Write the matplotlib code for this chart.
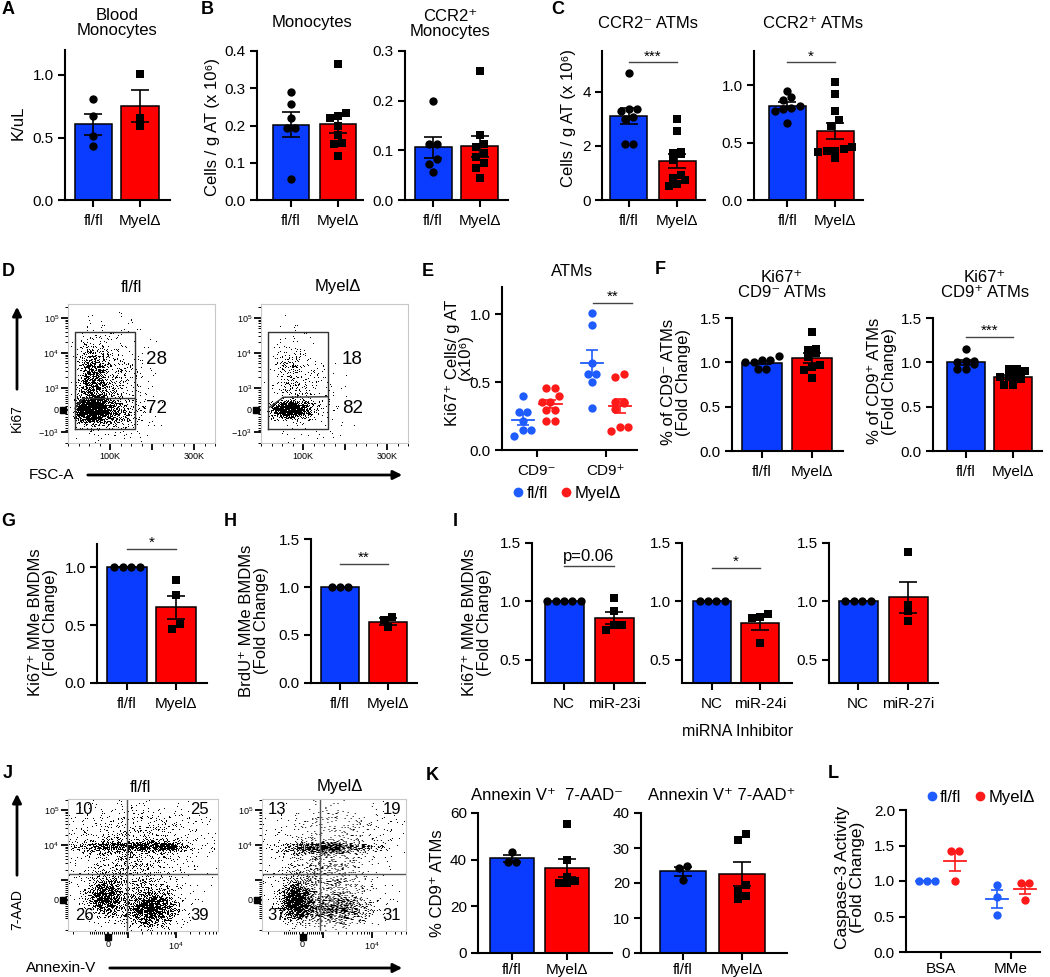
import numpy as np
import matplotlib
matplotlib.use('Agg')
import matplotlib.pyplot as plt
from matplotlib import ticker
from matplotlib.lines import Line2D
from matplotlib.patches import FancyArrowPatch

plt.rcParams['font.family'] = ['Liberation Sans', 'DejaVu Sans']
plt.rcParams['mathtext.fontset'] = 'custom'
plt.rcParams['mathtext.rm'] = 'Liberation Sans'
plt.rcParams['mathtext.it'] = 'Liberation Sans:italic'
plt.rcParams['mathtext.bf'] = 'Liberation Sans:bold'
plt.rcParams['mathtext.default'] = 'regular'

BLUE = '#0a3cff'
RED = '#ff0000'
DOT_BLUE = '#1f5cff'
DOT_RED = '#ff1a1a'

genotypes = ['fl/fl', 'MyelΔ']

# ---- data ----
# A: blood monocytes (K/uL)
a_fl = [0.81, 0.67, 0.51, 0.43]
a_myel = [1.01, 0.66, 0.59]
# B: monocytes in AT (cells / g AT x10^6)
b_mono_fl = [0.29, 0.259, 0.219, 0.194, 0.194, 0.056]
b_mono_myel = [0.366, 0.234, 0.225, 0.219, 0.2, 0.174, 0.154, 0.15, 0.119]
b_ccr2_fl = [0.2, 0.113, 0.113, 0.082, 0.072, 0.057]
b_ccr2_myel = [0.26, 0.131, 0.113, 0.107, 0.094, 0.087, 0.075, 0.064, 0.044]
# C: ATMs
c_neg_fl = [4.7, 3.35, 3.35, 3.3, 3.05, 3.0, 2.07, 2.07]
c_neg_myel = [3.0, 2.55, 1.79, 1.75, 1.7, 1.48, 0.92, 0.8, 0.74, 0.59, 0.52]
c_pos_fl = [0.95, 0.9, 0.87, 0.82, 0.8, 0.79, 0.78, 0.67]
c_pos_myel = [1.026, 0.927, 0.773, 0.70, 0.647, 0.466, 0.443, 0.431, 0.431, 0.42, 0.364]
# D: Ki67 flow, % of gate (upper, lower)
d_fl_pct = [28, 72]
d_myel_pct = [18, 82]
# E: Ki67+ cells / g AT (x10^6)
e_groups = ['CD9⁻', 'CD9⁺']
e_fl = [[0.40, 0.28, 0.28, 0.21, 0.147, 0.147, 0.10],
        [1.005, 0.92, 0.64, 0.56, 0.56, 0.5, 0.31]]
e_myel = [[0.46, 0.453, 0.40, 0.355, 0.355, 0.294, 0.294, 0.21, 0.21],
          [0.56, 0.54, 0.355, 0.355, 0.345, 0.30, 0.17, 0.17, 0.14]]
# F: Ki67+ fold change
f_neg_fl = [1.07, 1.03, 1.03, 1.0, 1.0, 0.93, 0.92]
f_neg_myel = [1.34, 1.15, 1.14, 1.1, 1.06, 0.97, 0.95, 0.91, 0.82]
f_pos_fl = [1.15, 1.02, 1.02, 1.0, 0.98, 0.93, 0.92]
f_pos_myel = [0.92, 0.92, 0.9, 0.83, 0.83, 0.83, 0.81, 0.75, 0.75]
# G, H: MMe BMDMs
g_fl = [1.0, 1.0, 1.0, 1.0]
g_myel = [0.885, 0.756, 0.51, 0.468]
h_fl = [1.0, 1.0, 1.0]
h_myel = [0.688, 0.653, 0.58]
# I: miRNA inhibitors
i_labels = [['NC', 'miR-23i'], ['NC', 'miR-24i'], ['NC', 'miR-27i']]
i_nc = [[1.0, 1.0, 1.0, 1.0, 1.0], [1.0, 1.0, 1.0, 1.0], [1.0, 1.0, 1.0, 1.0]]
i_inh = [[1.03, 0.914, 0.8, 0.794, 0.757],
         [0.891, 0.866, 0.857, 0.643],
         [1.42, 0.971, 0.914, 0.829]]
# J: annexin V / 7-AAD quadrants (UL, UR, LL, LR)
j_fl_pct = [10, 25, 26, 39]
j_myel_pct = [13, 19, 37, 31]
# K: % CD9+ ATMs
k_neg_fl = [43.2, 39.2, 39.2]
k_neg_myel = [55.1, 39.9, 32.7, 30.9, 30.1, 29.9]
k_pos_fl = [25.0, 24.2, 20.9]
k_pos_myel = [34.1, 32.3, 19.3, 17.7, 16.3, 15.4]
# L: caspase-3 activity
l_groups = ['BSA', 'MMe']
l_fl = [[1.0, 1.0, 1.0], [0.941, 0.776, 0.518]]
l_myel = [[1.426, 1.426, 1.0], [0.974, 0.974, 0.73]]

W, H = 1050, 977
fig = plt.figure(figsize=(W / 100, H / 100), dpi=100)


def rect(l, t, r, b):
    return [l / W, 1 - b / H, (r - l) / W, (b - t) / H]


def ftext(x, y, s, **kw):
    kw.setdefault('ha', 'center')
    kw.setdefault('va', 'center')
    fig.text(x / W, 1 - y / H, s, **kw)


def farrow(x0, y0, x1, y1):
    fig.add_artist(FancyArrowPatch((x0 / W, 1 - y0 / H), (x1 / W, 1 - y1 / H),
                                   transform=fig.transFigure, arrowstyle='-|>',
                                   mutation_scale=13, lw=2, color='k'))


def swarm(vals, ypx, xpx, d=8.0):
    # points that sit at about the same height are put side by side
    vals = np.asarray(vals, float)
    order = np.argsort(vals)
    offs = np.zeros(len(vals))
    rows, row = [], []
    for idx in order:
        if row and (vals[idx] - vals[row[0]]) * ypx > 0.8 * d:
            rows.append(row)
            row = []
        row.append(idx)
    rows.append(row)
    for r in rows:
        for k, idx in enumerate(r):
            offs[idx] = (k - (len(r) - 1) / 2) * d * 1.05 / xpx
    return offs


def style_axes(ax, yticks, fmt, xlabels, xpad=5):
    for sp in ['top', 'right']:
        ax.spines[sp].set_visible(False)
    for sp in ['left', 'bottom']:
        ax.spines[sp].set_linewidth(1.5)
    ax.set_yticks(yticks)
    ax.yaxis.set_major_formatter(ticker.FormatStrFormatter(fmt))
    ax.set_xticks(range(len(xlabels)))
    ax.set_xticklabels(xlabels)
    ax.tick_params(length=5, width=1.5, labelsize=11, pad=3)
    ax.tick_params(axis='x', pad=xpad)


def bar_panel(box, xlim, ylim, yticks, fmt, groups, xlabels, width=0.8, xpad=5):
    ax = fig.add_axes(rect(*box))
    ax.set_xlim(*xlim)
    ax.set_ylim(*ylim)
    xpx = (box[2] - box[0]) / (xlim[1] - xlim[0])
    ypx = (box[3] - box[1]) / (ylim[1] - ylim[0])
    for i, (vals, mk, col) in enumerate(zip(groups, ['o', 's'], [BLUE, RED])):
        vals = np.asarray(vals, float)
        m = vals.mean()
        s = vals.std(ddof=1) / np.sqrt(len(vals))
        ax.bar(i, m, width, color=col, edgecolor='k', linewidth=1.1, zorder=2)
        ax.scatter(i + swarm(vals, ypx, xpx), vals, marker=mk, s=36 if mk == 'o' else 30,
                   color='k', linewidths=0, zorder=3, clip_on=False)
        ax.errorbar(i, m, yerr=s, fmt='none', ecolor='k', elinewidth=1.2,
                    capsize=6.5, capthick=1.2, zorder=4)
    style_axes(ax, yticks, fmt, xlabels, xpad)
    return ax


def dot_panel(box, xlim, ylim, yticks, fmt, data_fl, data_myel, xlabels, off=0.2, xpad=5):
    ax = fig.add_axes(rect(*box))
    ax.set_xlim(*xlim)
    ax.set_ylim(*ylim)
    xpx = (box[2] - box[0]) / (xlim[1] - xlim[0])
    ypx = (box[3] - box[1]) / (ylim[1] - ylim[0])
    for i, (vf, vm) in enumerate(zip(data_fl, data_myel)):
        for vals, dx, col in ((vf, -off, DOT_BLUE), (vm, off, DOT_RED)):
            vals = np.asarray(vals, float)
            m = vals.mean()
            s = vals.std(ddof=1) / np.sqrt(len(vals))
            ax.scatter(i + dx + swarm(vals, ypx, xpx), vals, marker='o', s=36,
                       color=col, linewidths=0, zorder=3)
            ax.plot([i + dx - 0.16, i + dx + 0.16], [m, m], color=col, lw=1.3, zorder=4)
            ax.errorbar(i + dx, m, yerr=s, fmt='none', ecolor=col, elinewidth=1.2,
                        capsize=4.2, capthick=1.2, zorder=4)
    style_axes(ax, yticks, fmt, xlabels, xpad)
    return ax


def sig(ax, x0, x1, y, label, size=11, va='baseline'):
    ax.plot([x0, x1], [y, y], color='#444444', lw=1, zorder=5)
    ax.annotate(label, ((x0 + x1) / 2, y), xytext=(0, 1.5), textcoords='offset points',
                ha='center', va=va, fontsize=size)


def dot_legend(ax, xy):
    handles = [Line2D([], [], marker='o', ls='none', color=DOT_BLUE, ms=6),
               Line2D([], [], marker='o', ls='none', color=DOT_RED, ms=6)]
    ax.legend(handles, genotypes, loc='center', bbox_to_anchor=xy, ncol=2, frameon=False,
              fontsize=12, handletextpad=0.0, columnspacing=0.6, handlelength=1.0,
              borderaxespad=0)


def flow_panel(box, clusters, xscale, yscale, gate_x=None):
    # event cloud: density of the populations, drawn as single-pixel dots
    # through a fixed hash dither so it reads like a dot plot
    nx, ny = int(box[2] - box[0]), int(box[3] - box[1])
    xx, yy = np.meshgrid((np.arange(nx) + 0.5) / nx, (np.arange(ny) + 0.5) / ny)
    dens = np.zeros_like(xx)
    for cx, cy, sx, sy, w in clusters:
        dens += w * np.exp(-0.5 * (((xx - cx) / sx) ** 2 + ((yy - cy) / sy) ** 2))
    if gate_x is not None:
        dens *= 0.08 + 0.92 / (1 + np.exp(-(xx - gate_x) / 0.006))
    prob = 0.98 * (1 - np.exp(-2.4 * dens))
    px, py = np.meshgrid(np.arange(nx, dtype=float), np.arange(ny, dtype=float))
    thr = np.mod(np.sin(px * 12.9898 + py * 78.233) * 43758.5453, 1.0)
    img = np.where(prob > thr, 1.0, 0.0)
    axi = fig.add_axes(rect(*box))
    axi.imshow(img, extent=(0, 1, 0, 1), origin='lower', cmap='Greys', vmin=0, vmax=1,
               aspect='auto', interpolation='antialiased')
    axi.set_axis_off()

    ax = fig.add_axes(rect(*box))
    ax.patch.set_alpha(0)
    if xscale is not None:
        ax.set_xscale('symlog', linthresh=1e3, linscale=xscale)
        ax.xaxis.set_minor_locator(ticker.SymmetricalLogLocator(linthresh=1e3, base=10,
                                                                subs=np.arange(2, 10)))
    if yscale is not None:
        ax.set_yscale('symlog', linthresh=1e3, linscale=yscale)
        ax.yaxis.set_minor_locator(ticker.SymmetricalLogLocator(linthresh=1e3, base=10,
                                                                subs=np.arange(2, 10)))
    for sp in ax.spines.values():
        sp.set_color('#c8c8c8')
        sp.set_linewidth(0.8)
    ax.tick_params(which='both', direction='out', color='k', labelsize=6.5, pad=1.5)
    ax.tick_params(which='major', length=5, width=1.3)
    ax.tick_params(which='minor', length=2.5, width=0.7)
    return ax


# ---------------- A ----------------
ax = bar_panel((65, 50, 170, 200), (-0.6, 1.64), (0, 1.2), [0, 0.5, 1.0], '%.1f',
               [a_fl, a_myel], genotypes, width=0.79)
ftext(117, 23, 'Blood\nMonocytes', fontsize=12, linespacing=1.0)
ftext(18, 123, 'K/uL', fontsize=12, rotation=90)

# ---------------- B ----------------
bar_panel((257, 51, 363, 200), (-0.72, 1.53), (0, 0.4), [0, 0.1, 0.2, 0.3, 0.4], '%.1f',
          [b_mono_fl, b_mono_myel], genotypes, width=0.77)
bar_panel((405, 51, 508, 200), (-0.6, 1.6), (0, 0.3), [0, 0.1, 0.2, 0.3], '%.1f',
          [b_ccr2_fl, b_ccr2_myel], genotypes, width=0.79)
ftext(312, 23, 'Monocytes', fontsize=12)
ftext(450, 24, 'CCR2⁺\nMonocytes', fontsize=12, linespacing=1.0)
ftext(213, 127, 'Cells / g AT (x 10⁶)', fontsize=12, rotation=90)

# ---------------- C ----------------
ax = bar_panel((602, 51, 705, 200), (-0.56, 1.58), (0, 5.5), [0, 2, 4], '%d',
               [c_neg_fl, c_neg_myel], genotypes, width=0.77)
sig(ax, 0, 1, 5.08, '***')
ax = bar_panel((754, 51, 863, 200), (-0.69, 1.58), (0, 1.3), [0, 0.5, 1.0], '%.1f',
               [c_pos_fl, c_pos_myel], genotypes, width=0.77)
sig(ax, 0, 1, 1.2, '*')
ftext(648, 23, 'CCR2⁻ ATMs', fontsize=12)
ftext(813, 23, 'CCR2⁺ ATMs', fontsize=12)
ftext(568, 118, 'Cells / g AT (x 10⁶)', fontsize=12, rotation=90)

# ---------------- D ----------------
d_clusters = [
    [(0.16, 0.24, 0.06, 0.045, 2.6), (0.17, 0.46, 0.06, 0.14, 0.45),
     (0.30, 0.40, 0.12, 0.20, 0.08), (0.30, 0.22, 0.10, 0.06, 0.25)],
    [(0.20, 0.24, 0.065, 0.03, 2.2), (0.20, 0.50, 0.06, 0.15, 0.10),
     (0.32, 0.30, 0.12, 0.15, 0.04)],
]
d_boxes = [(68, 304, 215, 443), (261, 304, 408, 443)]
d_gate_line = [([0.048, 0.10, 0.456], [0.25, 0.32, 0.32]),
               ([0.057, 0.152, 0.456], [0.257, 0.329, 0.333])]
d_text_x = [0.605, 0.62]
for box, cl, pct, gl, tx in zip(d_boxes, d_clusters, [d_fl_pct, d_myel_pct],
                                d_gate_line, d_text_x):
    ax = flow_panel(box, cl, None, 0.567, gate_x=0.05)
    ax.set_xlim(0, 350e3)
    ax.set_ylim(-2055, 2.5e5)
    ax.set_xticks([1e5, 2e5, 3e5], ['100K', '', '300K'])
    ax.xaxis.set_minor_locator(ticker.MultipleLocator(25e3))
    ax.set_yticks([-1e3, 0, 1e3, 1e4, 1e5],
                  ['$-10^3$', '0', '$10^3$', '$10^4$', '$10^5$'])
    ax.plot([0.048, 0.456, 0.456, 0.048, 0.048], [0.10, 0.10, 0.80, 0.80, 0.10],
            color='#333333', lw=1, transform=ax.transAxes)
    ax.plot(gl[0], gl[1], color='#333333', lw=1, transform=ax.transAxes)
    ax.plot(-0.035, 0, 's', color='k', ms=5, transform=ax.get_yaxis_transform(),
            clip_on=False)
    ax.text(tx, 0.604, str(pct[0]), transform=ax.transAxes, ha='center', va='center',
            fontsize=13.5)
    ax.text(tx, 0.25, str(pct[1]), transform=ax.transAxes, ha='center', va='center',
            fontsize=13.5)
ftext(131, 287, 'fl/fl', fontsize=12)
ftext(338, 287, 'MyelΔ', fontsize=12)
farrow(17, 392, 17, 304)
ftext(17, 418, 'Ki67', fontsize=10, rotation=90)
ftext(52, 475, 'FSC-A', fontsize=11)
farrow(85, 475, 405, 475)

# ---------------- E ----------------
ax = dot_panel((502, 287, 637, 450), (-0.5, 1.45), (0, 1.2), [0, 0.5, 1.0], '%.1f',
               e_fl, e_myel, e_groups)
sig(ax, 0.81, 1.38, 1.08, '**')
dot_legend(ax, (0.47, -0.265))
ftext(572, 271, 'ATMs', fontsize=12)
ftext(452, 363, 'Ki67⁺ Cells/ g AT', fontsize=12, rotation=90)
ftext(466, 357, '(x10⁶)', fontsize=12, rotation=90)

# ---------------- F ----------------
bar_panel((732, 318, 843, 451), (-0.6, 1.62), (0, 1.5), [0, 0.5, 1.0, 1.5], '%.1f',
          [f_neg_fl, f_neg_myel], genotypes, width=0.8)
ax = bar_panel((933, 318, 1042, 451), (-0.7, 1.62), (0, 1.5), [0, 0.5, 1.0, 1.5], '%.1f',
               [f_pos_fl, f_pos_myel], genotypes, width=0.8)
sig(ax, 0, 1, 1.29, '***')
ftext(782, 285, 'Ki67⁺\nCD9⁻ ATMs', fontsize=12, linespacing=1.0)
ftext(985, 285, 'Ki67⁺\nCD9⁺ ATMs', fontsize=12, linespacing=1.0)
ftext(676, 382, '% of CD9⁻ ATMs\n(Fold Change)', fontsize=12, rotation=90,
      linespacing=1.0)
ftext(882, 381, '% of CD9⁺ ATMs\n(Fold Change)', fontsize=12, rotation=90,
      linespacing=1.0)

# ---------------- G / H ----------------
ax = bar_panel((97, 544, 207, 683), (-0.61, 1.63), (0, 1.2), [0, 0.5, 1.0], '%.1f',
               [g_fl, g_myel], genotypes, width=0.8)
sig(ax, 0, 1, 1.16, '*')
ftext(43, 622, 'Ki67⁺ MMe BMDMs\n(Fold Change)', fontsize=12, rotation=90,
      linespacing=1.0)
ax = bar_panel((311, 539, 417, 683), (-0.6, 1.6), (0, 1.5), [0, 0.5, 1.0, 1.5], '%.1f',
               [h_fl, h_myel], genotypes, width=0.8)
sig(ax, 0, 1, 1.24, '**')
ftext(254, 621, 'BrdU⁺ MMe BMDMs\n(Fold Change)', fontsize=12, rotation=90,
      linespacing=1.0)

# ---------------- I ----------------
i_boxes = [(532, 543, 645, 683), (682, 543, 792, 683), (829, 543, 938, 683)]
i_xlims = [(-0.64, 1.62), (-0.63, 1.67), (-0.58, 1.6)]
i_axes = []
for box, xl, nc, inh, lab in zip(i_boxes, i_xlims, i_nc, i_inh, i_labels):
    i_axes.append(bar_panel(box, xl, (0.3, 1.5), [0.5, 1.0, 1.5], '%.1f',
                            [nc, inh], lab, width=0.78))
sig(i_axes[0], 0, 1, 1.3, 'p=0.06', size=12, va='bottom')
sig(i_axes[1], 0, 1, 1.29, '*')
ftext(477, 622, 'Ki67⁺ MMe BMDMs\n(Fold Change)', fontsize=12, rotation=90,
      linespacing=1.0)
ftext(738, 731, 'miRNA Inhibitor', fontsize=11.5)

# ---------------- J ----------------
j_clusters = [
    [(0.38, 0.64, 0.20, 0.022, 0.6), (0.62, 0.64, 0.07, 0.02, 1.0),
     (0.45, 0.72, 0.25, 0.12, 0.08), (0.25, 0.25, 0.06, 0.07, 0.8),
     (0.55, 0.17, 0.09, 0.07, 0.8), (0.40, 0.40, 0.20, 0.12, 0.12)],
    [(0.45, 0.63, 0.16, 0.022, 0.8), (0.50, 0.75, 0.25, 0.10, 0.05),
     (0.24, 0.22, 0.05, 0.07, 1.5), (0.50, 0.17, 0.13, 0.06, 0.4),
     (0.40, 0.40, 0.20, 0.13, 0.12)],
]
j_boxes = [(68, 799, 218, 931), (262, 799, 406, 931)]
j_xmax = [7.6e4, 5.1e4]
j_vline = [945, 845]
j_text = [(0.047, 0.94), (0.04, 0.965)]
for box, cl, pct, xm, vl, (tl, tr) in zip(j_boxes, j_clusters, [j_fl_pct, j_myel_pct],
                                         j_xmax, j_vline, j_text):
    ax = flow_panel(box, cl, 0.378, 0.513)
    ax.set_xlim(-2600, xm)
    ax.set_ylim(-2070, 2.07e5)
    ax.set_xticks([0, 1e3, 1e4], ['0', '', '$10^4$'])
    ax.set_yticks([0, 1e3, 1e4, 1e5], ['0', '', '$10^4$', '$10^5$'])
    ax.axvline(vl, color='#555555', lw=1)
    ax.axhline(1490, color='#555555', lw=1)
    ax.plot(-0.035, 0, 's', color='k', ms=5, transform=ax.get_yaxis_transform(),
            clip_on=False)
    ax.plot(0, -0.045, 's', color='k', ms=5, transform=ax.get_xaxis_transform(),
            clip_on=False)
    kw = dict(transform=ax.transAxes, va='center', fontsize=12)
    ax.text(tl, 0.917, str(pct[0]), ha='left', **kw)
    ax.text(tr, 0.917, str(pct[1]), ha='right', **kw)
    ax.text(tl, 0.12, str(pct[2]), ha='left', **kw)
    ax.text(tr, 0.12, str(pct[3]), ha='right', **kw)
ftext(140, 787, 'fl/fl', fontsize=12)
ftext(340, 787, 'MyelΔ', fontsize=12)
farrow(17, 878, 17, 791)
ftext(17, 910, '7-AAD', fontsize=10, rotation=90)
ftext(61, 968, 'Annexin-V', fontsize=11)
farrow(107, 968, 405, 968)

# ---------------- K ----------------
bar_panel((478, 813, 612, 953), (-0.62, 1.82), (0, 60), [0, 20, 40, 60], '%d',
          [k_neg_fl, k_neg_myel], genotypes, width=0.8, xpad=2.5)
bar_panel((641, 813, 787, 953), (-0.71, 1.76), (0, 40), [0, 10, 20, 30, 40], '%d',
          [k_pos_fl, k_pos_myel], genotypes, width=0.78, xpad=2.5)
ftext(547, 795, 'Annexin V⁺  7-AAD⁻', fontsize=12)
ftext(722, 795, 'Annexin V⁺ 7-AAD⁺', fontsize=12)
ftext(437, 883, '% CD9⁺ ATMs', fontsize=12, rotation=90)

# ---------------- L ----------------
ax = dot_panel((906, 810, 1040, 952), (-0.5, 1.41), (0, 2.0), [0, 0.5, 1.0, 1.5, 2.0],
               '%.1f', l_fl, l_myel, l_groups, xpad=2.5)
dot_legend(ax, (0.545, 1.09))
ftext(850, 877, 'Caspase-3 Activity\n(Fold Change)', fontsize=12.5, rotation=90,
      linespacing=1.0)

# panel letters
for lab, x, y in [('A', 8, 9), ('B', 207, 9), ('C', 558, 9), ('D', 8, 272),
                  ('E', 428, 271), ('F', 660, 270), ('G', 8, 522), ('H', 230, 522),
                  ('I', 455, 522), ('J', 8, 773), ('K', 432, 775), ('L', 833, 773)]:
    ftext(x, y, lab, fontsize=13, fontweight='bold')

fig.savefig('out.png', dpi=100)
